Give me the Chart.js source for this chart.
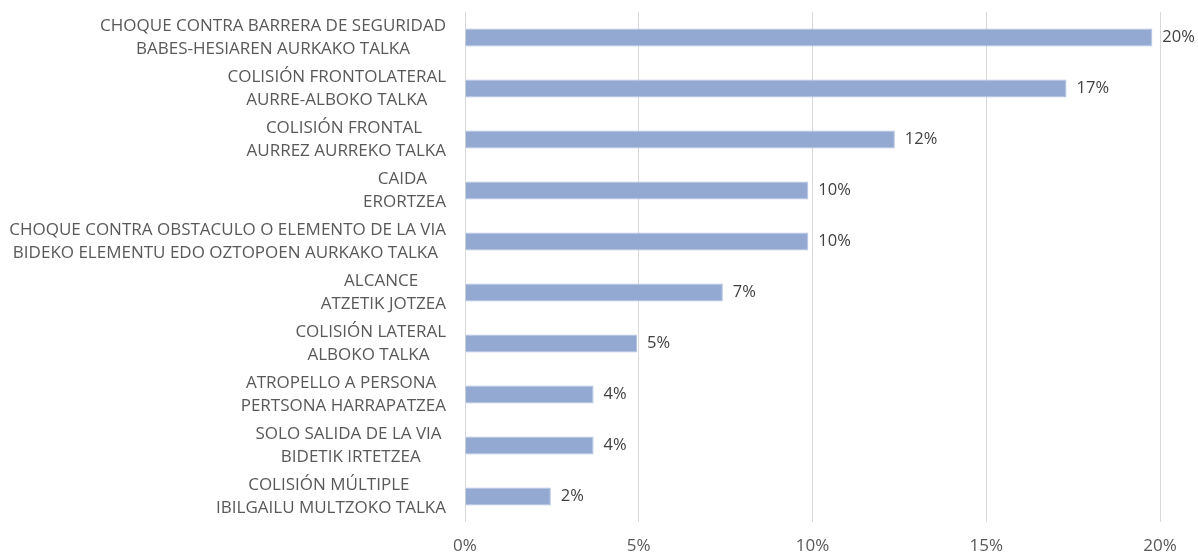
<!DOCTYPE html>
<html>
<head>
<meta charset="utf-8">
<script src="https://cdn.jsdelivr.net/npm/chart.js@4.4.0/dist/chart.umd.min.js"></script>
<style>
  html, body { margin: 0; padding: 0; background: #fff; }
  #wrap { width: 1198px; height: 556px; position: relative; }
</style>
</head>
<body>
<div id="wrap"><canvas id="chart"></canvas></div>
<script>
// ============ datos ============
const CATEGORIES = [
  ['CHOQUE CONTRA BARRERA DE SEGURIDAD', 'BABES-HESIAREN AURKAKO TALKA'],
  ['COLISIÓN FRONTOLATERAL', 'AURRE-ALBOKO TALKA'],
  ['COLISIÓN FRONTAL ', 'AURREZ AURREKO TALKA'],
  ['CAIDA ', 'ERORTZEA'],
  ['CHOQUE CONTRA OBSTACULO O ELEMENTO DE LA VIA', 'BIDEKO ELEMENTU EDO OZTOPOEN AURKAKO TALKA '],
  ['ALCANCE ', 'ATZETIK JOTZEA'],
  ['COLISIÓN LATERAL', 'ALBOKO TALKA '],
  ['ATROPELLO A PERSONA ', 'PERTSONA HARRAPATZEA'],
  ['SOLO SALIDA DE LA VIA ', 'BIDETIK IRTETZEA'],
  ['COLISIÓN MÚLTIPLE ', 'IBILGAILU MULTZOKO TALKA']
];
const VALUES = [0.1978, 0.1731, 0.1237, 0.0988, 0.0988, 0.0742, 0.0495, 0.0370, 0.0370, 0.0247];
const X_TICKS = [0, 0.05, 0.10, 0.15, 0.20];

const FONT = '"Open Sans", "DejaVu Sans", sans-serif';
const TEXT = '#595959';

// etiquetas del eje Y (bloque alineado a la derecha, líneas centradas)
const yLabels = {
  id: 'yLabels',
  afterDraw(chart) {
    const ctx = chart.ctx, ys = chart.scales.y;
    ctx.save();
    ctx.font = '17px ' + FONT;
    ctx.fillStyle = TEXT;
    ctx.textAlign = 'center';
    ctx.textBaseline = 'middle';
    const right = ys.right - 19, lh = 23;
    CATEGORIES.forEach((lines, i) => {
      const y = ys.getPixelForTick(i);
      const w = Math.max(...lines.map(l => ctx.measureText(l).width));
      const cx = right - w / 2;
      lines.forEach((l, j) => ctx.fillText(l, cx, y + (j - (lines.length - 1) / 2) * lh));
    });
    ctx.restore();
  }
};

// etiquetas de valor
const valueLabels = {
  id: 'valueLabels',
  afterDatasetsDraw(chart) {
    const ctx = chart.ctx;
    const meta = chart.getDatasetMeta(0);
    ctx.save();
    ctx.font = '16.5px ' + FONT;
    ctx.fillStyle = '#404040';
    ctx.textAlign = 'left';
    ctx.textBaseline = 'middle';
    meta.data.forEach((bar, i) => {
      ctx.fillText(Math.round(VALUES[i] * 100) + '%', bar.x + 10, bar.y);
    });
    ctx.restore();
  }
};

new Chart(document.getElementById('chart'), {
  type: 'bar',
  data: {
    labels: CATEGORIES.map(c => c.join(' ')),
    datasets: [{
      data: VALUES,
      backgroundColor: '#94a9d1',
      borderColor: '#b4c4e2',
      borderWidth: 1,
      barPercentage: 0.7,
      categoryPercentage: 0.5
    }]
  },
  options: {
    indexAxis: 'y',
    responsive: true,
    maintainAspectRatio: false,
    animation: false,
    layout: { padding: { top: 12, right: 38, bottom: 0, left: 0 } },
    plugins: { legend: { display: false }, tooltip: { enabled: false } },
    scales: {
      x: {
        min: 0, max: 0.2,
        afterBuildTicks: s => { s.ticks = X_TICKS.map(v => ({ value: v })); },
        grid: { color: '#d9d9d9', lineWidth: 1, drawTicks: false },
        border: { display: false },
        ticks: {
          padding: 14,
          color: TEXT,
          font: { family: FONT, size: 17 },
          callback: v => Math.round(v * 100) + '%'
        },
        afterFit: s => { s.height = 34; }
      },
      y: {
        grid: { display: false },
        border: { display: false },
        ticks: { display: false },
        afterFit: s => { s.width = 465; }
      }
    }
  },
  plugins: [yLabels, valueLabels]
});
</script>
</body>
</html>
